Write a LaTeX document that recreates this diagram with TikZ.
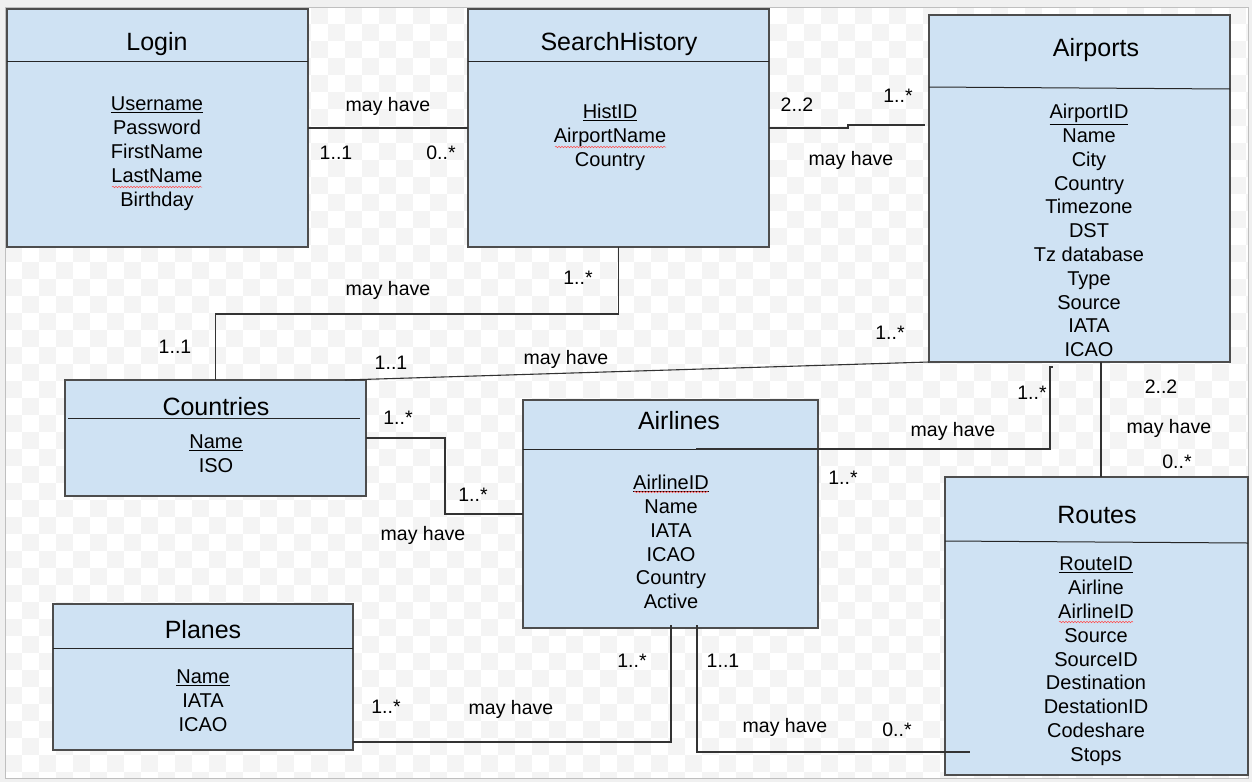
\documentclass[tikz,border=0pt]{standalone}
\usepackage{fontspec}
\setmainfont{Liberation Sans}
\usetikzlibrary{calc,decorations.pathmorphing}
\definecolor{boxblue}{HTML}{CFE2F3}
\definecolor{boxline}{HTML}{4D4D4D}
\definecolor{checker}{HTML}{F4F4F4}

\begin{document}
\begin{tikzpicture}[x=1pt,y=-1pt,
  entity/.style={draw=boxline,fill=boxblue,line width=1.2pt,anchor=north west,inner sep=0pt,outer sep=0pt},
  boxtitle/.style={anchor=base,font=\fontsize{25}{30}\selectfont,inner sep=0pt},
  attrs/.style={anchor=north,align=center,font=\fontsize{20}{23.8}\selectfont,inner sep=0pt},
  lbl/.style={anchor=base,font=\fontsize{19.5}{23}\selectfont,inner sep=0pt},
  divider/.style={draw=black!85,line width=1pt},
  rel/.style={draw=black!80,line width=1.1pt},
  typo/.style={draw=red!70,line width=0.5pt,decorate,decoration={snake,amplitude=0.8pt,segment length=3pt}}]

  % canvas
  \useasboundingbox (0,0) rectangle (1252,782);
  \fill[black!6] (0,0) rectangle (1252,782);
  \fill[white] (5,7) rectangle (1248,778);
  \begin{scope}
    \clip (5,7) rectangle (1248,778);
    \foreach \j in {0,...,45}{
      \pgfmathtruncatemacro\off{mod(\j,2)}
      \foreach \i in {0,...,37}
        \fill[checker] (5+\off*17+\i*34,7+\j*17) rectangle ++(17,17);
    }
  \end{scope}
  \draw[black!25] (5,7) rectangle (1248,778);

  % entities
  \node[entity,minimum width=301pt,minimum height=238pt] (login) at (7,9) {};
  \node[entity,minimum width=301pt,minimum height=238pt] (search) at (468,9) {};
  \node[entity,minimum width=301pt,minimum height=347pt] (airports) at (929,15) {};
  \node[entity,minimum width=301pt,minimum height=116pt] (countries) at (65,380) {};
  \node[entity,minimum width=295pt,minimum height=228pt] (airlines) at (523,400) {};
  \node[entity,minimum width=300pt,minimum height=146pt] (planes) at (53,604) {};
  \node[entity,minimum width=303pt,minimum height=298pt] (routes) at (945,477) {};

  \draw[divider] ($(login.north west)+(0,52)$) -- ($(login.north east)+(0,52)$);
  \draw[divider] ($(search.north west)+(0,52)$) -- ($(search.north east)+(0,52)$);
  \draw[divider] ($(airports.north west)+(0,72)$) -- ($(airports.north east)+(0,74)$);
  \draw[divider] ($(countries.north west)+(3,38)$) -- ($(countries.north east)+(-6,38)$);
  \draw[divider] ($(airlines.north west)+(0,49)$) -- ($(airlines.north east)+(0,49)$);
  \draw[divider] ($(planes.north west)+(0,44)$) -- ($(planes.north east)+(0,44)$);
  \draw[divider] ($(routes.north west)+(0,64)$) -- ($(routes.north east)+(0,66)$);

  \node[boxtitle] (logintitle) at (157,50) {Login};
  \node[boxtitle] (searchtitle) at (619,50) {SearchHistory};
  \node[boxtitle] (airportstitle) at (1096,56) {Airports};
  \node[boxtitle] (countriestitle) at (216,415) {Countries};
  \node[boxtitle] (airlinestitle) at (679,429) {Airlines};
  \node[boxtitle] (planestitle) at (203,638) {Planes};
  \node[boxtitle] (routestitle) at (1097,523) {Routes};

  \node[attrs] (loginattr) at (157,97) {\underline{Username}\\Password\\FirstName\\LastName\\Birthday};
  \node[attrs] (searchattr) at (610,104) {\underline{HistID}\\AirportName\\Country};
  \node[attrs] (airportsattr) at (1089,104) {\underline{AirportID}\\Name\\City\\Country\\Timezone\\DST\\Tz database\\Type\\Source\\IATA\\ICAO};
  \node[attrs] (countriesattr) at (216,435) {\underline{Name}\\ISO};
  \node[attrs] (airlinesattr) at (671,475) {\underline{AirlineID}\\Name\\IATA\\ICAO\\Country\\Active};
  \node[attrs] (planesattr) at (203,670) {\underline{Name}\\IATA\\ICAO};
  \node[attrs] (routesattr) at (1096,557) {\underline{RouteID}\\Airline\\AirlineID\\Source\\SourceID\\Destination\\DestationID\\Codeshare\\Stops};

  % spell check marks
  \draw[typo] (112,187) -- (202,187);
  \draw[typo] (555,147) -- (666,147);
  \draw[typo] (634,492) -- (708,492);
  \draw[typo] (1059,622) -- (1133,622);

  % relations
  \draw[rel] (login.east) -- (search.west);
  \draw[rel] (search.east) -- ++(79,0) -- ++(0,-3) -- ($(airports.north west)+(-4,110)$);
  \draw[rel] (search.south) -- ++(0,67) -| (countries.north);
  \draw[rel] ($(countries.north west)+(280,0)$) -- (airports.south west);
  \draw[rel] (countries.east) -- ++(79,0) |- (airlines.west);
  \draw[rel] ($(airlines.north west)+(173,49)$) -| ($(airports.south west)+(121,5)$) -- ++(3,0);
  \draw[rel] ($(airports.south west)+(172,0)$) -- ($(routes.north west)+(156,0)$);
  \draw[rel] ($(airlines.south west)+(148,-3)$) |- ($(planes.south east)+(0,-8)$);
  \draw[rel] ($(airlines.south west)+(174,-3)$) |- ($(routes.south west)+(25,-23)$);

  % labels
  \node[lbl] (l1a) at (388,111) {may have};
  \node[lbl] (l1b) at (336,159) {1..1};
  \node[lbl] (l1c) at (441,159) {0..*};
  \node[lbl] (l2a) at (797,111) {2..2};
  \node[lbl] (l2b) at (898,102) {1..*};
  \node[lbl] (l2c) at (851,165) {may have};
  \node[lbl] (l3a) at (578,284) {1..*};
  \node[lbl] (l3b) at (388,295) {may have};
  \node[lbl] (l3c) at (175,353) {1..1};
  \node[lbl] (l4a) at (391,369) {1..1};
  \node[lbl] (l4b) at (566,364) {may have};
  \node[lbl] (l4c) at (890,339) {1..*};
  \node[lbl] (l5a) at (398,424) {1..*};
  \node[lbl] (l5b) at (473,501) {1..*};
  \node[lbl] (l5c) at (423,540) {may have};
  \node[lbl] (l6a) at (953,436) {may have};
  \node[lbl] (l6b) at (1032,399) {1..*};
  \node[lbl] (l6c) at (843,484) {1..*};
  \node[lbl] (l7a) at (1161,393) {2..2};
  \node[lbl] (l7b) at (1169,433) {may have};
  \node[lbl] (l7c) at (1177,468) {0..*};
  \node[lbl] (l8a) at (632,667) {1..*};
  \node[lbl] (l8b) at (511,714) {may have};
  \node[lbl] (l8c) at (386,713) {1..*};
  \node[lbl] (l9a) at (723,667) {1..1};
  \node[lbl] (l9b) at (785,732) {may have};
  \node[lbl] (l9c) at (897,736) {0..*};
\end{tikzpicture}
\end{document}
